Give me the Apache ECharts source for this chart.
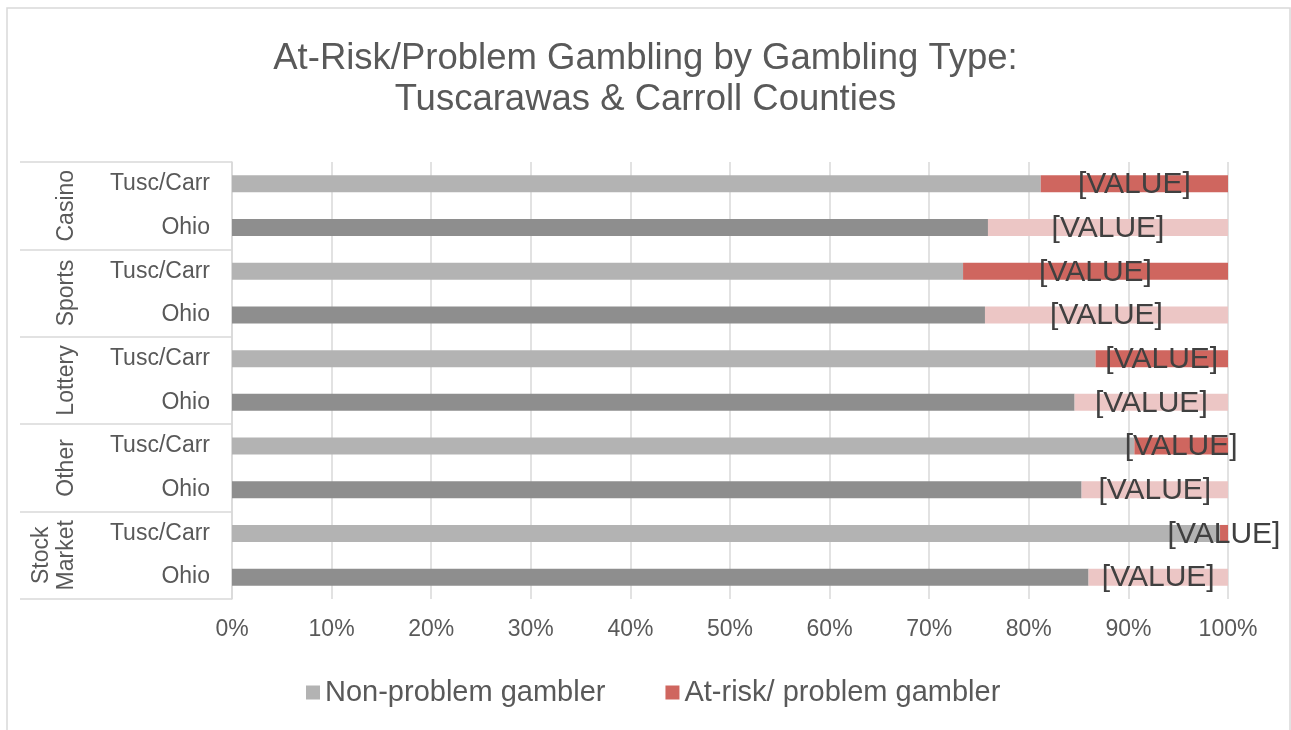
<!DOCTYPE html>
<html>
<head>
<meta charset="utf-8">
<script src="https://cdn.jsdelivr.net/npm/echarts@6/dist/echarts.min.js"></script>
<style>
  html, body { margin: 0; padding: 0; background: #fff; }
  #chart { width: 1291px; height: 730px; }
</style>
</head>
<body>
<div id="chart"></div>
<script>
// gambling types (each has a Tusc/Carr row and an Ohio row)
const groups = ['Casino', 'Sports', 'Lottery', 'Other', 'Stock\nMarket']
const rows = ['Tusc/Carr', 'Ohio', 'Tusc/Carr', 'Ohio', 'Tusc/Carr', 'Ohio', 'Tusc/Carr', 'Ohio', 'Tusc/Carr', 'Ohio']
// percentages
const nonProblem = [81.2, 75.9, 73.4, 75.6, 86.7, 84.6, 90.6, 85.3, 99.2, 86.0]
const atRisk = [18.8, 24.1, 26.6, 24.4, 13.3, 15.4, 9.4, 14.7, 0.8, 14.0]
const xTicks = [0, 10, 20, 30, 40, 50, 60, 70, 80, 90, 100]

const FONT = "'Liberation Sans', Arial, sans-serif"
const TEXT = '#595959'
const LINE = '#d9d9d9'

// Tusc/Carr rows light, Ohio rows dark/pale
const greyFor = (i) => (i % 2 === 0 ? '#b3b3b3' : '#8e8e8e')
const redFor = (i) => (i % 2 === 0 ? '#cf665f' : '#ecc6c5')

const chart = echarts.init(document.getElementById('chart'))

chart.setOption({
  animation: false,
  textStyle: { fontFamily: FONT },
  title: {
    text: 'At-Risk/Problem Gambling by Gambling Type:\nTuscarawas & Carroll Counties',
    left: 'center',
    top: 38,
    padding: 0,
    textStyle: { fontSize: 36.5, lineHeight: 41, fontWeight: 'normal', color: TEXT, fontFamily: FONT }
  },
  legend: {
    top: 673,
    left: 301,
    icon: 'rect',
    itemWidth: 14,
    itemHeight: 14,
    itemGap: 60,
    textStyle: { fontSize: 29, color: TEXT, fontFamily: FONT },
    data: [
      { name: 'Non-problem gambler', itemStyle: { color: '#b3b3b3' } },
      { name: 'At-risk/ problem gambler', itemStyle: { color: '#cf665f' } }
    ]
  },
  grid: { left: 232, right: 63, top: 162, bottom: 131 },
  xAxis: {
    type: 'value',
    min: xTicks[0],
    max: xTicks[xTicks.length - 1],
    interval: 10,
    axisLine: { show: false },
    axisTick: { show: false },
    splitLine: { show: true, lineStyle: { color: LINE, width: 1.5 } },
    axisLabel: { formatter: '{value}%', fontSize: 23, color: TEXT, margin: 19, fontFamily: FONT }
  },
  yAxis: [
    {
      type: 'category',
      data: rows,
      inverse: true,
      axisLine: { show: true, lineStyle: { color: LINE, width: 1.5 } },
      axisTick: { show: false },
      axisLabel: { interval: 0, fontSize: 23, color: TEXT, margin: 22, fontFamily: FONT }
    },
    {
      type: 'category',
      data: groups,
      inverse: true,
      position: 'left',
      axisLine: { show: false },
      axisTick: { show: true, interval: 0, length: 212, lineStyle: { color: LINE, width: 1.5 } },
      axisLabel: { interval: 0, rotate: 90, fontSize: 23, lineHeight: 25, color: TEXT, margin: 153, fontFamily: FONT }
    }
  ],
  graphic: [
    {
      type: 'rect',
      shape: { x: 7, y: 8, width: 1283, height: 740 },
      style: { fill: 'none', stroke: LINE, lineWidth: 1.5 },
      silent: true
    }
  ],
  series: [
    {
      name: 'Non-problem gambler',
      type: 'bar',
      stack: 'total',
      barWidth: 17,
      data: nonProblem,
      itemStyle: { color: (p) => greyFor(p.dataIndex) }
    },
    {
      name: 'At-risk/ problem gambler',
      type: 'bar',
      stack: 'total',
      barWidth: 17,
      data: atRisk,
      itemStyle: { color: (p) => redFor(p.dataIndex) },
      label: {
        show: true,
        position: 'inside',
        offset: [0, 1],
        formatter: '[VALUE]',
        fontSize: 30,
        color: '#404040',
        fontFamily: FONT
      }
    }
  ]
})

window.addEventListener('resize', () => chart.resize())
</script>
</body>
</html>
